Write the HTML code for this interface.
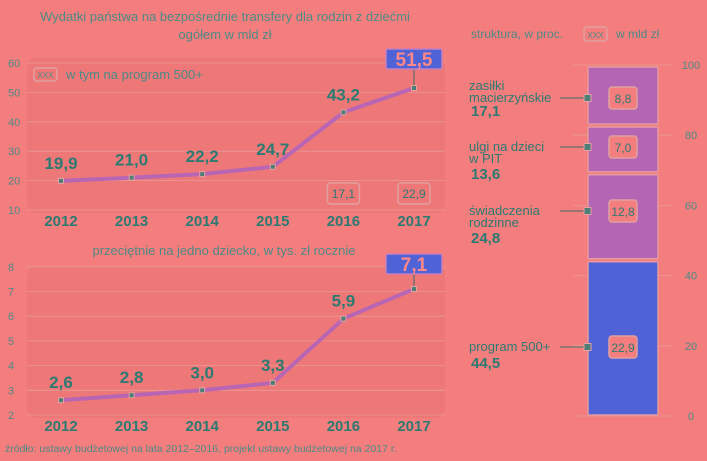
<!DOCTYPE html>
<html><head><meta charset="utf-8"><style>
body{margin:0;background:#f47e7d;}
svg{display:block;font-family:"Liberation Sans",sans-serif;}
</style></head><body>
<svg id="c" width="707" height="461"></svg>
<script>
const years=["2012","2013","2014","2015","2016","2017"];
const totals=[19.9,21.0,22.2,24.7,43.2,51.5];
const totalLabels=["19,9","21,0","22,2","24,7","43,2","51,5"];
const program500=[null,null,null,null,"17,1","22,9"];
const topTicks=[10,20,30,40,50,60];
const perChild=[2.6,2.8,3.0,3.3,5.9,7.1];
const perChildLabels=["2,6","2,8","3,0","3,3","5,9","7,1"];
const botTicks=[2,3,4,5,6,7,8];
const segNames=[["program 500+"],["świadczenia","rodzinne"],["ulgi na dzieci","w PIT"],["zasiłki","macierzyńskie"]];
const segPct=[44.5,24.8,13.6,17.1];
const segPctLabels=["44,5","24,8","13,6","17,1"];
const segBn=["22,9","12,8","7,0","8,8"];
const rightTicks=[0,20,40,60,80,100];

const NS="http://www.w3.org/2000/svg";
const svg=document.getElementById('c');
function el(t,a,p){const e=document.createElementNS(NS,t);for(const k in a)e.setAttribute(k,a[k]);(p||svg).appendChild(e);return e;}
function tx(s,a,p){const e=el('text',a,p);e.textContent=s;return e;}
const teal="#2c7a72";
const xS=i=>61+i*70.6;

function lineChart(o){
  const g=el('g',{});
  
  
  const y=v=>o.y0-(v-o.tmin)*o.k;
  el('rect',{x:27,y:o.bgTop,width:418,height:o.y0-o.bgTop+3,rx:8,fill:"#ee7878"},g);
  o.ticks.forEach(t=>{
    el('line',{x1:27,x2:445,y1:y(t),y2:y(t),stroke:"#e89a97","stroke-width":0.8},g);
    const l=tx(String(t),{x:8,y:y(t)+4,"font-size":11,fill:"#4d8a86"},g);
    
  });
  years.forEach((yr,i)=>{const l=tx(yr,{x:xS(i),y:o.yearY,"text-anchor":"middle","font-size":15,"font-weight":"bold",fill:teal},g);
    });
  const pts=o.vals.map((v,i)=>xS(i)+","+y(v)).join(" ");
  const pl=el('polyline',{points:pts,fill:"none",stroke:"#b866b4","stroke-width":4,"stroke-linejoin":"round"},g);
  
  o.vals.forEach((v,i)=>{
    const m=el('rect',{x:xS(i)-2.5,y:y(v)-2.5,width:5,height:5,fill:"#4b7f78",stroke:"#e8a0a0","stroke-width":1},g);
    
    if(i<5){const l=tx(o.labels[i],{x:xS(i),y:y(v)-12,"text-anchor":"middle","font-size":17,"font-weight":"bold",fill:teal},g);
      }
    else{
      el('line',{x1:xS(i),x2:xS(i),y1:y(v)-3,y2:o.boxY+20,stroke:"#3d6a68"},g);
      const b=el('rect',{x:xS(i)-28,y:o.boxY,width:56,height:20,rx:2,fill:"#4f62d6",stroke:"#c57fc0","stroke-width":1.5},g);
      
      const l=tx(o.labels[i],{x:xS(i),y:o.boxY+17,"text-anchor":"middle","font-size":19,"font-weight":"bold",fill:"#f88"},g);
      
    }
  });
  return {g,y};
}

const t1=tx("Wydatki państwa na bezpośrednie transfery dla rodzin z dziećmi",{x:225,y:21,"text-anchor":"middle","font-size":13,fill:"#4d8a86"});

const t2=tx("ogółem w mld zł",{x:225,y:39,"text-anchor":"middle","font-size":13,fill:"#4d8a86"});


const topChart=lineChart({name:'total-chart',vals:totals,labels:totalLabels,ticks:topTicks,tmin:10,k:2.94,y0:210,bgTop:58,yearY:226,boxY:49});
el('rect',{x:34,y:68,width:23,height:13,rx:3,fill:"none",stroke:"#e0a0a0","stroke-width":1.5},topChart.g);
tx("XXX",{x:45.5,y:78,"text-anchor":"middle","font-size":8,fill:"#4d8a86"},topChart.g);
const lg=tx("w tym na program 500+",{x:66,y:79,"font-size":13,fill:"#4d8a86"},topChart.g);

program500.forEach((p,i)=>{if(!p)return;
  el('rect',{x:xS(i)-16,y:183,width:32,height:21,rx:3,fill:"none",stroke:"#e0a0a0","stroke-width":1.5},topChart.g);
  const l=tx(p,{x:xS(i),y:198,"text-anchor":"middle","font-size":12,fill:teal},topChart.g);
  });

const st=tx("przeciętnie na jedno dziecko, w tys. zł rocznie",{x:224,y:255,"text-anchor":"middle","font-size":13,fill:"#4d8a86"});

lineChart({name:'per-child-chart',vals:perChild,labels:perChildLabels,ticks:botTicks,tmin:2,k:24.7,y0:415,bgTop:266,yearY:431,boxY:254});

const src=tx("źródło: ustawy budżetowej na lata 2012–2016, projekt ustawy budżetowej na 2017 r.",{x:5,y:452,"font-size":10.5,fill:"#4d8a86"});


const rg=el('g',{});

const ry=v=>416-v*3.51;
const h1=tx("struktura, w proc.",{x:471,y:38,"font-size":12,fill:"#4d8a86"},rg);

el('rect',{x:584,y:27,width:23,height:14,rx:3,fill:"none",stroke:"#e0a0a0","stroke-width":1.5},rg);
tx("XXX",{x:595.5,y:38,"text-anchor":"middle","font-size":8,fill:"#4d8a86"},rg);
tx("w mld zł",{x:616,y:38,"font-size":12,fill:"#4d8a86"},rg);
rightTicks.forEach(t=>{
  el('line',{x1:573,x2:672,y1:ry(t),y2:ry(t),stroke:"#e89a97","stroke-width":0.8},rg);
  const l=tx(String(t),{x:691,y:ry(t)+4,"text-anchor":"middle","font-size":11,fill:"#4d8a86"},rg);
  
});
let cum=0;
const labelY=[347,211,147,98];
segPct.forEach((p,i)=>{
  const y1=ry(cum+p)+2,y2=ry(cum)-1;
  const r=el('rect',{x:588,y:y1,width:70,height:y2-y1,fill:i==0?"#4f62d6":"#b466b4",stroke:"#e69aa0","stroke-width":1.5,rx:1},rg);
  
  const cy=labelY[i];
  el('line',{x1:560,x2:588,y1:cy,y2:cy,stroke:"#3d6a68"},rg);
  el('rect',{x:584,y:cy-3.5,width:7,height:7,fill:"#4b7f78",stroke:"#e8a0a0"},rg);
  el('rect',{x:609,y:cy-11,width:28,height:22,rx:3,fill:"#f47e7d",stroke:"#e0a0a0","stroke-width":1.5},rg);
  const b=tx(segBn[i],{x:623,y:cy+5,"text-anchor":"middle","font-size":12,fill:teal},rg);
  
  const nm=segNames[i];
  nm.forEach((s,j)=>{const l=tx(s,{x:469,y:(i==3?cy-8:cy+4)+j*12,"font-size":13,fill:teal},rg);
    });
  const py=(i==3?cy+18:(nm.length==1?cy+21:cy+32));
  const pl=tx(segPctLabels[i],{x:471,y:py,"font-size":15,"font-weight":"bold",fill:teal},rg);
  
  cum+=p;
});
</script>
</body></html>
